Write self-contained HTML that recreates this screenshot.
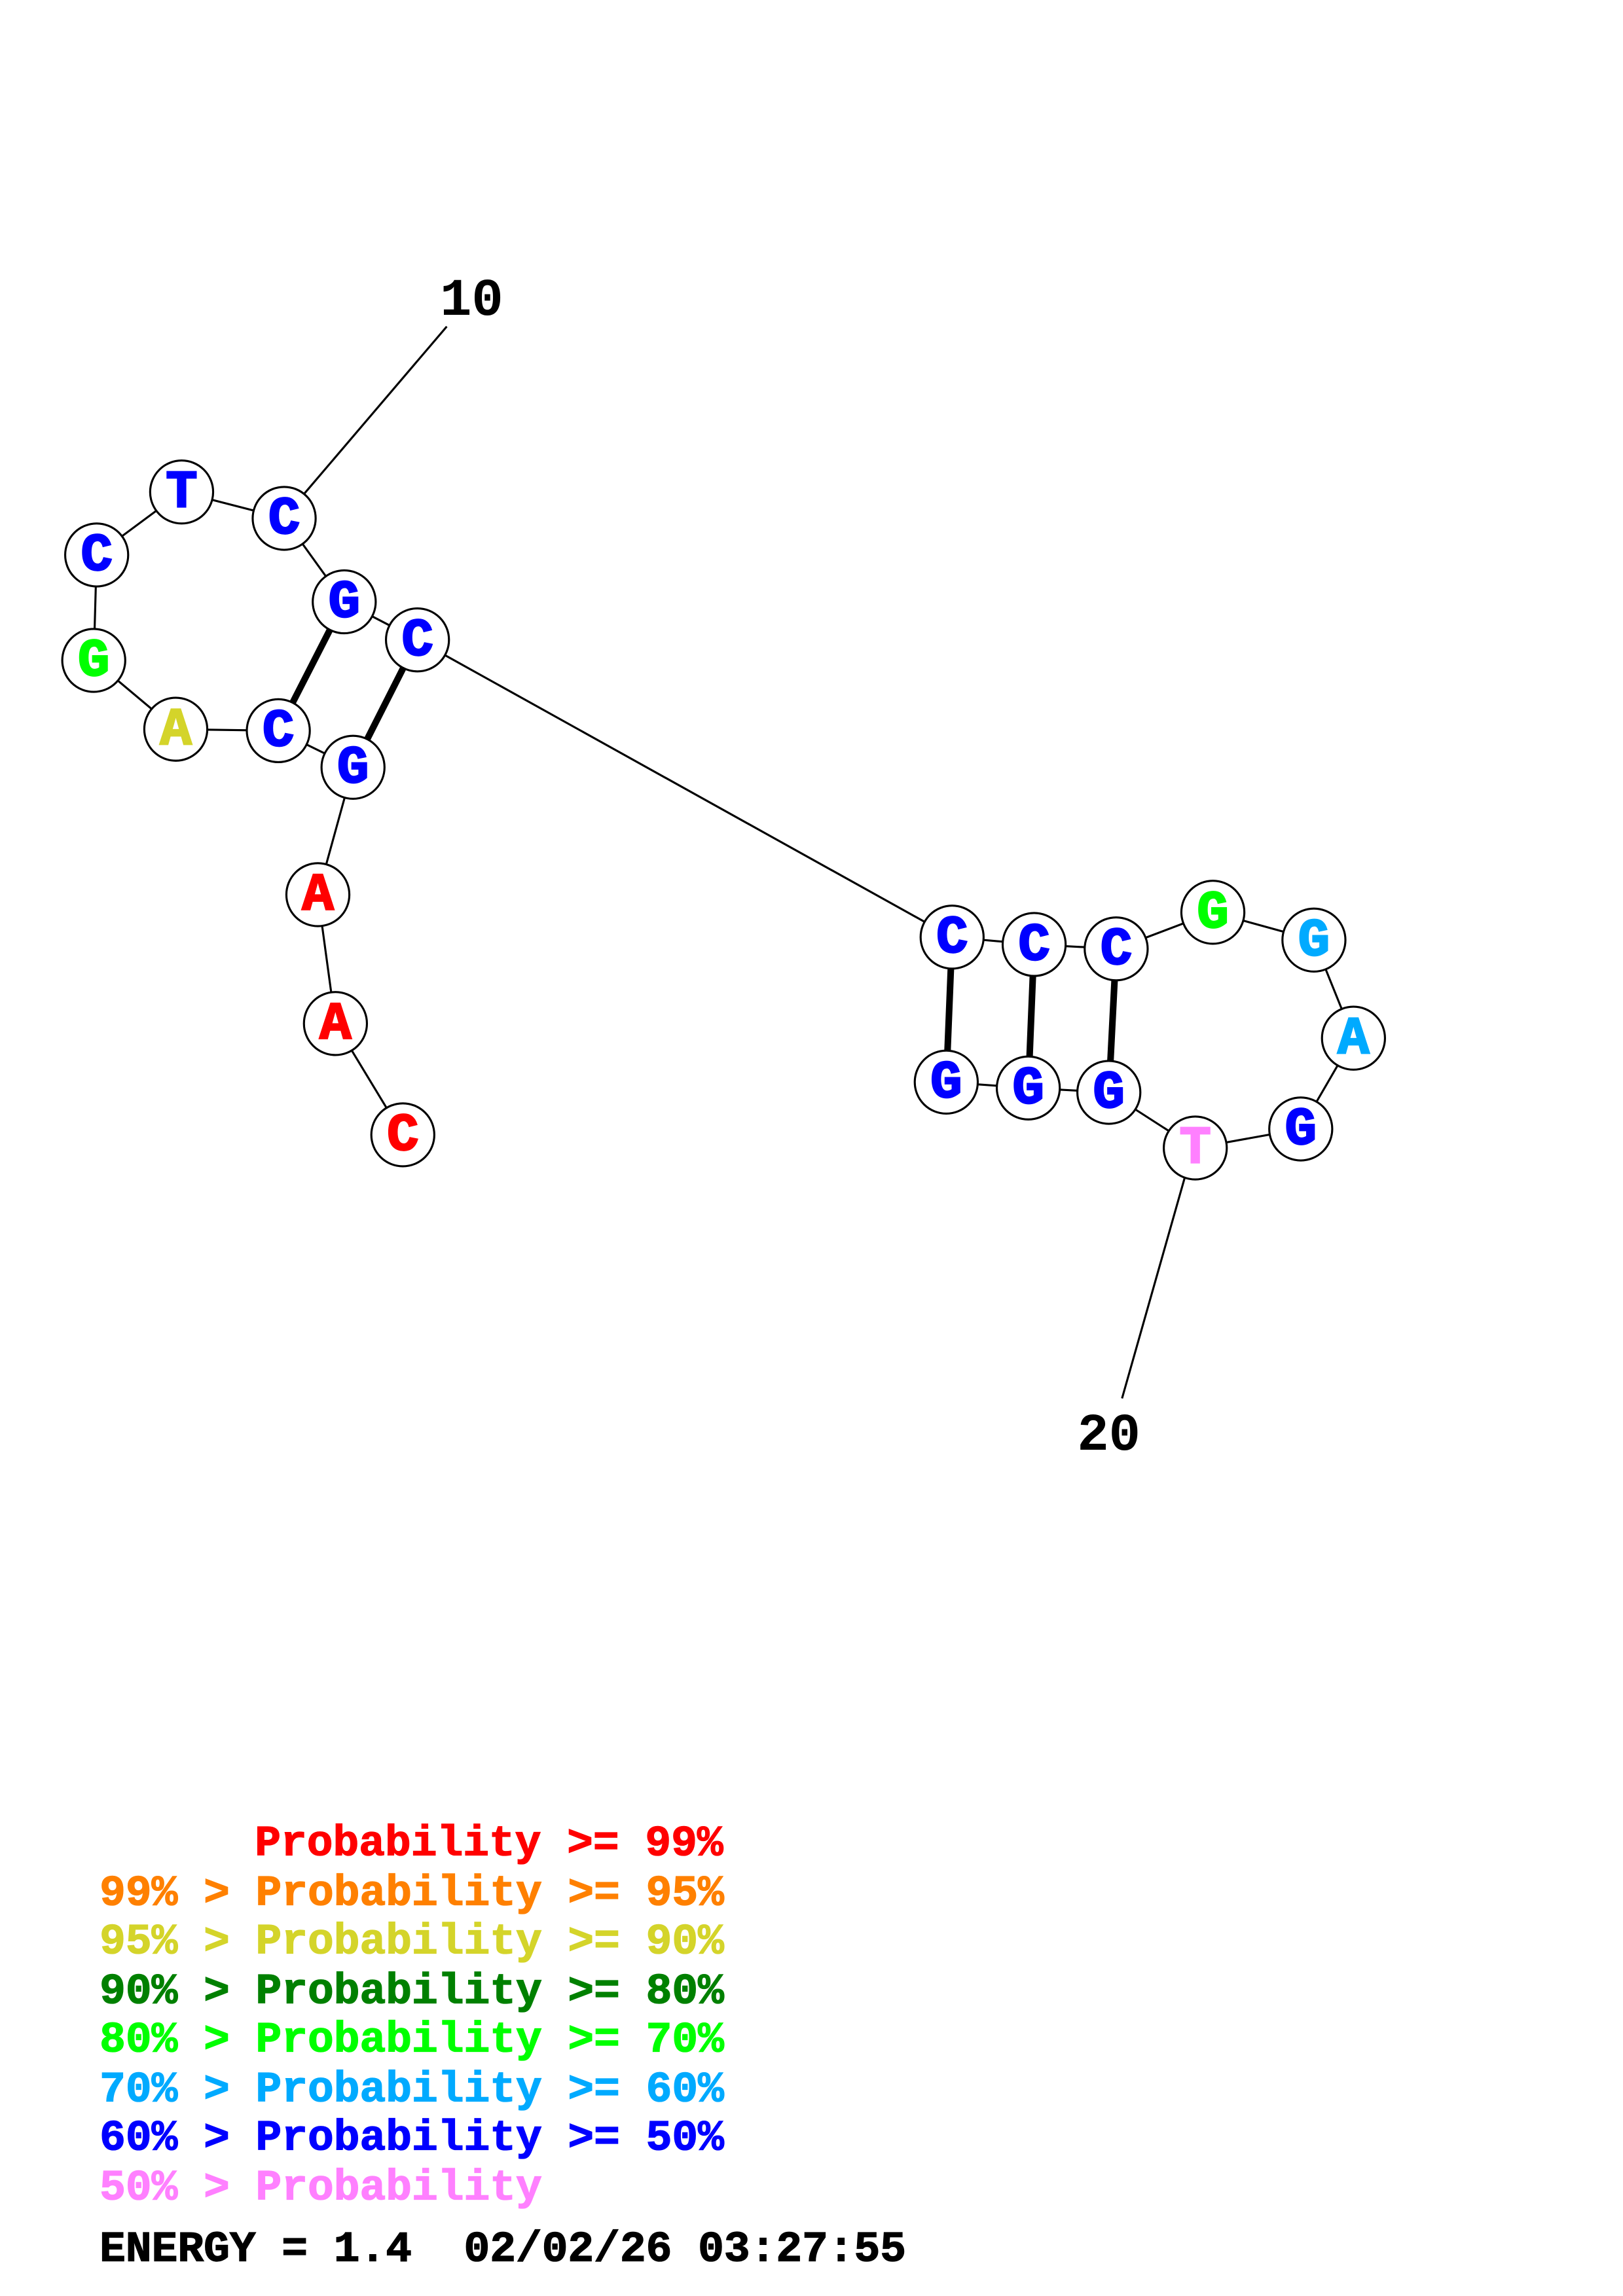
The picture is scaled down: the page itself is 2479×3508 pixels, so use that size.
<!DOCTYPE html>
<html><head><meta charset="utf-8"><style>
html,body{margin:0;padding:0;background:#fff;}
svg{display:block;}
text{font-family:"Liberation Mono","Courier New",monospace;font-weight:bold;white-space:pre;}
</style></head><body>
<svg width="2479" height="3508" viewBox="0 0 1108 1568" preserveAspectRatio="none" xmlns="http://www.w3.org/2000/svg">
<g stroke="#000" stroke-width="1.4" fill="none">
<polyline points="275,775 229,699 217,611 241,524 190,499 120,498 64,451 66,379 124,336 194,354 235,411 285,437 650,640 706,645 762,648 828,623 897,642 924,709 888,771 816,784 757,746 702,743 646,739"/>
<line x1="305" y1="223" x2="207" y2="338"/>
<line x1="810" y1="800" x2="766" y2="955"/>
</g>
<g stroke="#000" stroke-width="4.5">
<line x1="235" y1="411" x2="190" y2="499"/>
<line x1="285" y1="437" x2="241" y2="524"/>
<line x1="650" y1="640" x2="646" y2="739"/>
<line x1="706" y1="645" x2="702" y2="743"/>
<line x1="762" y1="648" x2="757" y2="746"/>
</g>
<g stroke="#000" stroke-width="1.4" fill="#fff">
<circle cx="275" cy="775" r="21.5"/><circle cx="229" cy="699" r="21.5"/><circle cx="217" cy="611" r="21.5"/><circle cx="241" cy="524" r="21.5"/><circle cx="190" cy="499" r="21.5"/><circle cx="120" cy="498" r="21.5"/><circle cx="64" cy="451" r="21.5"/><circle cx="66" cy="379" r="21.5"/><circle cx="124" cy="336" r="21.5"/><circle cx="194" cy="354" r="21.5"/><circle cx="235" cy="411" r="21.5"/><circle cx="285" cy="437" r="21.5"/>
<circle cx="650" cy="640" r="21.5"/><circle cx="706" cy="645" r="21.5"/><circle cx="762" cy="648" r="21.5"/><circle cx="828" cy="623" r="21.5"/><circle cx="897" cy="642" r="21.5"/><circle cx="924" cy="709" r="21.5"/><circle cx="888" cy="771" r="21.5"/><circle cx="816" cy="784" r="21.5"/><circle cx="757" cy="746" r="21.5"/><circle cx="702" cy="743" r="21.5"/><circle cx="646" cy="739" r="21.5"/>
</g>
<g font-size="36" text-anchor="middle" dominant-baseline="central" stroke-width="1.2">
<text x="275" y="776" fill="#f00" stroke="#f00">C</text>
<text x="229" y="700" fill="#f00" stroke="#f00">A</text>
<text x="217" y="612" fill="#f00" stroke="#f00">A</text>
<text x="241" y="525" fill="#00f" stroke="#00f">G</text>
<text x="190" y="500" fill="#00f" stroke="#00f">C</text>
<text x="120" y="499" fill="#d4d42a" stroke="#d4d42a">A</text>
<text x="64" y="452" fill="#0f0" stroke="#0f0">G</text>
<text x="66" y="380" fill="#00f" stroke="#00f">C</text>
<text x="124" y="337" fill="#00f" stroke="#00f">T</text>
<text x="194" y="355" fill="#00f" stroke="#00f">C</text>
<text x="235" y="412" fill="#00f" stroke="#00f">G</text>
<text x="285" y="438" fill="#00f" stroke="#00f">C</text>
<text x="650" y="641" fill="#00f" stroke="#00f">C</text>
<text x="706" y="646" fill="#00f" stroke="#00f">C</text>
<text x="762" y="649" fill="#00f" stroke="#00f">C</text>
<text x="828" y="624" fill="#0f0" stroke="#0f0">G</text>
<text x="897" y="643" fill="#00aaff" stroke="#00aaff">G</text>
<text x="924" y="710" fill="#00aaff" stroke="#00aaff">A</text>
<text x="888" y="772" fill="#00f" stroke="#00f">G</text>
<text x="816" y="785" fill="#ff80ff" stroke="#ff80ff">T</text>
<text x="757" y="747" fill="#00f" stroke="#00f">G</text>
<text x="702" y="744" fill="#00f" stroke="#00f">G</text>
<text x="646" y="740" fill="#00f" stroke="#00f">G</text>
</g>
<g font-size="36" text-anchor="middle" fill="#000">
<text x="322" y="215">10</text>
<text x="757" y="990">20</text>
</g>
<g font-size="29.6" stroke-width="0.6">
<text x="174" y="1267" fill="#f00" stroke="#f00">Probability &gt;= 99%</text>
<text x="68" y="1301" fill="#ff8000" stroke="#ff8000">99% &gt; Probability &gt;= 95%</text>
<text x="68" y="1334" fill="#d4d42a" stroke="#d4d42a">95% &gt; Probability &gt;= 90%</text>
<text x="68" y="1368" fill="#008000" stroke="#008000">90% &gt; Probability &gt;= 80%</text>
<text x="68" y="1401" fill="#0f0" stroke="#0f0">80% &gt; Probability &gt;= 70%</text>
<text x="68" y="1435" fill="#00aaff" stroke="#00aaff">70% &gt; Probability &gt;= 60%</text>
<text x="68" y="1468" fill="#00f" stroke="#00f">60% &gt; Probability &gt;= 50%</text>
<text x="68" y="1502" fill="#ff80ff" stroke="#ff80ff">50% &gt; Probability</text>
<text x="68" y="1544" fill="#000" stroke="#000">ENERGY = 1.4  02/02/26 03:27:55</text>
</g>
</svg>
</body></html>
